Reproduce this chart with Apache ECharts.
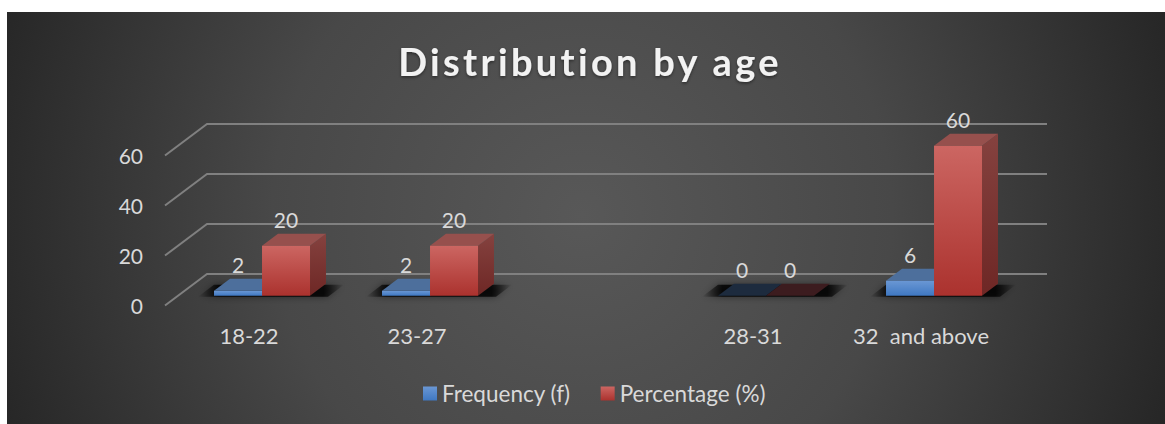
<!DOCTYPE html>
<html>
<head>
<meta charset="utf-8">
<style>
  html, body { margin: 0; padding: 0; background: #fff; }
  #chart { width: 1165px; height: 424px; }
  svg text { white-space: pre; }
  svg text[style*="38px"] { letter-spacing: 3.3px; }
</style>
<script src="https://cdn.jsdelivr.net/npm/echarts@6/dist/echarts.min.js"></script>
</head>
<body>
<div id="chart"></div>
<script>
const titleText = 'Distribution by age';
const categories = ['18-22', '23-27', '', '28-31', '32  and above'];
const frequency = [2, 2, null, 0, 6];
const percentage = [20, 20, null, 0, 60];
const yTicks = [0, 20, 40, 60];
const seriesNames = ['Frequency (f)', 'Percentage (%)'];

const FONT = 'Lato';
const TEXT = '#d9d9d9';

// Oblique projection of the chart's depth axis, in pixels for the whole floor.
const DEPTH_X = 42;
const DEPTH_Y = -31.5;
// Bars stand between these fractions of the floor depth.
const BAR_NEAR = 0.31;
const BAR_FAR = 0.69;
const BAR_RATIO = 48 / 168;

const palette = {
  blue: {
    front: ['#6a97d4', '#3f78c2'], top: '#4d6f9c', side: ['#3d5f8c', '#2f4e78'], zero: '#1d2b3e'
  },
  red: {
    front: ['#cc6662', '#ab322e'], top: '#96504d', side: ['#85423f', '#6e2725'], zero: '#3c1c1f'
  }
};

function vGrad(c) {
  return new echarts.graphic.LinearGradient(0, 0, 0, 1, [
    { offset: 0, color: c[0] }, { offset: 1, color: c[1] }
  ]);
}

// One 3D column: the band is split in two, `slot` picks the left or right half.
function columnRenderer(colors, slot) {
  return function (params, api) {
    const idx = api.value(0), val = api.value(1);
    const band = api.size([1, 0])[0];
    const w = band * BAR_RATIO;
    const top = api.coord([idx, val]);
    const base = api.coord([idx, 0]);
    const ox = DEPTH_X * BAR_NEAR, oy = DEPTH_Y * BAR_NEAR;
    const dx = DEPTH_X * (BAR_FAR - BAR_NEAR), dy = DEPTH_Y * (BAR_FAR - BAR_NEAR);
    const xl = top[0] + ox + (slot - 1) * w, xr = xl + w;
    const yt = top[1] + oy, yb = base[1] + oy;
    const children = [];
    if (val === 0) {
      children.push({ type: 'polygon', shape: { points: [[xl, yb], [xr, yb], [xr + dx, yb + dy], [xl + dx, yb + dy]] },
        style: { fill: colors.zero } });
    } else {
      children.push(
        { type: 'polygon', shape: { points: [[xr, yb], [xr + dx, yb + dy], [xr + dx, yt + dy], [xr, yt]] },
          style: { fill: vGrad(colors.side) } },
        { type: 'polygon', shape: { points: [[xl, yt], [xr, yt], [xr + dx, yt + dy], [xl + dx, yt + dy]] },
          style: { fill: colors.top } },
        { type: 'rect', shape: { x: xl, y: yt, width: w, height: yb - yt },
          style: { fill: vGrad(colors.front) } }
      );
    }
    children.push({ type: 'text', z2: 50, style: {
      text: String(val), x: (xl + xr) / 2, y: yt - 26.5, align: 'center', verticalAlign: 'middle',
      fill: TEXT, font: '21px ' + FONT
    } });
    return { type: 'group', children: children };
  };
}

// Soft floor shadow beneath each pair of columns, slanted with the floor and fading out sideways.
function shadowRenderer(params, api) {
  const idx = api.value(0);
  const band = api.size([1, 0])[0];
  const w = band * BAR_RATIO;
  const c = api.coord([idx, 0]);
  const ox = DEPTH_X * BAR_NEAR, oy = DEPTH_Y * BAR_NEAR;
  const dx = DEPTH_X * (BAR_FAR - BAR_NEAR), dy = DEPTH_Y * (BAR_FAR - BAR_NEAR);
  const xl = c[0] + ox - w - 16, xr = c[0] + ox + w + 18, yb = c[1] + oy + 1;
  return {
    type: 'polygon',
    shape: { points: [[xl, yb], [xr, yb], [xr + dx, yb + dy], [xl + dx, yb + dy]] },
    style: {
      fill: new echarts.graphic.LinearGradient(0, 0, 1, 0, [
        { offset: 0, color: 'rgba(0,0,0,0)' },
        { offset: 0.14, color: 'rgba(0,0,0,0.82)' },
        { offset: 0.86, color: 'rgba(0,0,0,0.82)' },
        { offset: 1, color: 'rgba(0,0,0,0)' }
      ]),
      shadowColor: 'rgba(0,0,0,0.6)', shadowBlur: 7
    }
  };
}

// Wall and side gridline for one y tick.
function gridlineRenderer(params, api) {
  const cs = params.coordSys;
  const y = api.coord([0, api.value(0)])[1];
  return {
    type: 'polyline',
    shape: { points: [[cs.x, y], [cs.x + DEPTH_X, y + DEPTH_Y], [cs.x + cs.width + DEPTH_X, y + DEPTH_Y]] },
    style: { fill: 'none', stroke: '#808080', lineWidth: 2 }
  };
}

const toPoints = arr => arr.map((v, i) => [i, v]).filter(p => p[1] !== null);

const chart = echarts.init(document.getElementById('chart'), null, { renderer: 'svg' });
chart.setOption({
  animation: false,
  graphic: [{
    type: 'rect', z: -10, silent: true,
    shape: { x: 7, y: 12, width: 1158, height: 412 },
    style: {
      fill: new echarts.graphic.RadialGradient(582, 215, 620, [
        { offset: 0, color: '#585858' },
        { offset: 0.5, color: '#484848' },
        { offset: 1, color: '#262626' }
      ], true)
    }
  }],
  title: {
    text: titleText, left: 585, top: 37, textAlign: 'center',
    textStyle: {
      color: '#f2f2f2', fontFamily: FONT, fontWeight: 'bold', fontSize: 38,
      textShadowColor: 'rgba(0,0,0,0.45)', textShadowBlur: 3, textShadowOffsetY: 1.5
    }
  },
  legend: {
    data: seriesNames, top: 377, left: 418, icon: 'rect', itemWidth: 14, itemHeight: 14, itemGap: 30,
    selectedMode: false,
    textStyle: { color: TEXT, fontFamily: FONT, fontSize: 22.5 }
  },
  grid: { left: 165, width: 840, top: 155.5, height: 150 },
  xAxis: {
    type: 'category', data: categories,
    axisLine: { show: false }, axisTick: { show: false },
    axisLabel: { interval: 0, color: TEXT, fontFamily: FONT, fontSize: 22, margin: 19 }
  },
  yAxis: {
    type: 'value', min: 0, max: 60, interval: 20,
    axisLine: { show: false }, axisTick: { show: false }, splitLine: { show: false },
    axisLabel: { color: TEXT, fontFamily: FONT, fontSize: 21, margin: 22 }
  },
  series: [
    { type: 'custom', name: 'gridlines', silent: true, z: 1, renderItem: gridlineRenderer,
      data: yTicks.map(v => [v]), encode: { y: 0 } },
    { type: 'custom', name: 'floor shadow', silent: true, z: 2, renderItem: shadowRenderer,
      data: toPoints(frequency), encode: { x: 0, y: 1 } },
    { type: 'custom', name: seriesNames[0], z: 3, renderItem: columnRenderer(palette.blue, 0),
      itemStyle: { color: vGrad(palette.blue.front) },
      data: toPoints(frequency), encode: { x: 0, y: 1 } },
    { type: 'custom', name: seriesNames[1], z: 4, renderItem: columnRenderer(palette.red, 1),
      itemStyle: { color: vGrad(palette.red.front) },
      data: toPoints(percentage), encode: { x: 0, y: 1 } }
  ]
});
</script>
</body>
</html>
